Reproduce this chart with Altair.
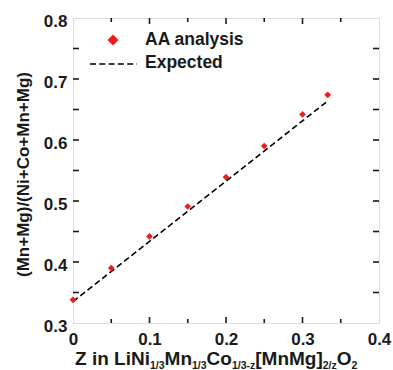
import altair as alt
import pandas as pd

# ---- data ----
z_measured = [0.0, 0.05, 0.10, 0.15, 0.20, 0.25, 0.30, 0.333]
ratio_measured = [0.338, 0.390, 0.442, 0.491, 0.539, 0.590, 0.642, 0.674]
z_expected = [0.0, 0.333]
ratio_expected = [0.335, 0.664]

x_label_values = [0.0, 0.1, 0.2, 0.3, 0.4]
y_label_values = [0.3, 0.4, 0.5, 0.6, 0.7, 0.8]
x_major_ticks = [0.1, 0.2, 0.3]
x_minor_ticks = [0.05, 0.15, 0.25, 0.35]
y_ticks = [0.35, 0.4, 0.45, 0.5, 0.55, 0.6, 0.65, 0.7, 0.75]

y_title = "(Mn+Mg)/(Ni+Co+Mn+Mg)"
x_title_parts = [("Z in LiNi", False), ("1/3", True), ("Mn", False), ("1/3", True),
                 ("Co", False), ("1/3-z", True), ("[MnMg]", False), ("2/z", True),
                 ("O", False), ("2", True)]
legend_labels = ["AA analysis", "Expected"]

# ---- layout ----
W, H = 306, 305
FONT = "Liberation Sans"
INK = "#1a1a1a"
RED = "#ee1c1c"

meas = pd.DataFrame({"z": z_measured, "r": ratio_measured})
expd = pd.DataFrame({"z": z_expected, "r": ratio_expected})
one = pd.DataFrame({"a": [0]})

xs = alt.Scale(domain=[0, 0.4], nice=False, zero=False)
ys = alt.Scale(domain=[0.3, 0.8], nice=False, zero=False)

x_axis = alt.Axis(values=x_label_values, ticks=False, domain=False, grid=False, tickSize=0,
                  labelFontSize=17, labelFont=FONT, labelFontWeight="bold", labelColor=INK,
                  labelPadding=8, labelFlush=False, title=None,
                  labelExpr="datum.value == 0 ? '0' : format(datum.value, '.1f')")
y_axis = alt.Axis(values=y_label_values, ticks=False, domain=False, grid=False, tickSize=0,
                  labelFontSize=17, labelFont=FONT, labelFontWeight="bold", labelColor=INK,
                  labelPadding=6, labelFlush=False, labelOffset=3, format=".1f",
                  title=y_title, titleFontSize=17, titleFont=FONT, titleFontWeight="bold",
                  titleColor=INK, titleAngle=270, titleX=-50, titleY=156,
                  titleAlign="center", titleBaseline="middle")

line = alt.Chart(expd).mark_line(color="black", strokeWidth=1.6, strokeDash=[6, 3.3]).encode(
    x=alt.X("z:Q", scale=xs, axis=x_axis),
    y=alt.Y("r:Q", scale=ys, axis=y_axis),
)
pts = alt.Chart(meas).mark_point(shape="diamond", filled=True, color=RED, size=45, opacity=1).encode(
    x=alt.X("z:Q", scale=xs), y=alt.Y("r:Q", scale=ys)
)

def xticks(vals, length):
    d = pd.DataFrame({"v": vals})
    b = alt.Chart(d).mark_rule(color=INK, strokeWidth=1.6).encode(
        x=alt.X("v:Q", scale=xs), y=alt.value(H), y2=alt.value(H - length))
    t = alt.Chart(d).mark_rule(color=INK, strokeWidth=1.6).encode(
        x=alt.X("v:Q", scale=xs), y=alt.value(0), y2=alt.value(length))
    return [b, t]

def yticks(vals, length):
    d = pd.DataFrame({"v": vals})
    l = alt.Chart(d).mark_rule(color=INK, strokeWidth=1.6).encode(
        y=alt.Y("v:Q", scale=ys), x=alt.value(0), x2=alt.value(length))
    r = alt.Chart(d).mark_rule(color=INK, strokeWidth=1.6).encode(
        y=alt.Y("v:Q", scale=ys), x=alt.value(W), x2=alt.value(W - length))
    return [l, r]

tick_layers = xticks(x_major_ticks, 6) + xticks(x_minor_ticks, 4) + yticks(y_ticks, 6)

# ---- legend ----
leg_pt = alt.Chart(one).mark_point(shape="diamond", filled=True, color=RED, size=120, opacity=1).encode(
    x=alt.value(40), y=alt.value(22))
leg_ln = alt.Chart(one).mark_rule(color="black", strokeWidth=1.6, strokeDash=[6, 3.3]).encode(
    x=alt.value(17), x2=alt.value(64), y=alt.value(46))
leg_t1 = alt.Chart(one).mark_text(text=legend_labels[0], align="left", baseline="middle",
                                  fontSize=17.5, font=FONT, fontWeight="bold", color=INK).encode(
    x=alt.value(72), y=alt.value(22))
leg_t2 = alt.Chart(one).mark_text(text=legend_labels[1], align="left", baseline="middle",
                                  fontSize=17.5, font=FONT, fontWeight="bold", color=INK).encode(
    x=alt.value(72), y=alt.value(45))

# ---- x title with subscripts ----
WID = {' ': 278, '(': 333, ')': 333, '+': 584, '-': 333, '/': 278, '0': 556, '1': 556,
       '2': 556, '3': 556, 'C': 722, 'L': 611, 'M': 833, 'N': 722, 'O': 778, 'Z': 611,
       '[': 333, ']': 333, 'g': 611, 'i': 278, 'n': 611, 'o': 611, 'z': 500}
F_MAIN, F_SUB = 19, 10.5
title_layers = []
cx = 2.0
for txt, sub in x_title_parts:
    fs = F_SUB if sub else F_MAIN
    yb = 351 if sub else 347
    title_layers.append(
        alt.Chart(one).mark_text(text=txt, align="left", baseline="alphabetic", fontSize=fs,
                                 font=FONT, fontWeight="bold", color=INK).encode(
            x=alt.value(cx), y=alt.value(yb)))
    cx += sum(WID.get(c, 556) for c in txt) / 1000 * fs

chart = alt.layer(line, pts, *tick_layers, leg_pt, leg_ln, leg_t1, leg_t2, *title_layers).properties(
    width=W, height=H,
    autosize=alt.AutoSizeParams(type="none"),
    padding={"left": 73, "top": 18, "right": 393 - 73 - W, "bottom": 370 - 18 - H},
).configure_view(stroke=INK, strokeWidth=2).configure(font=FONT)

chart.save("out.html", embed_options={"renderer": "svg", "actions": False})
